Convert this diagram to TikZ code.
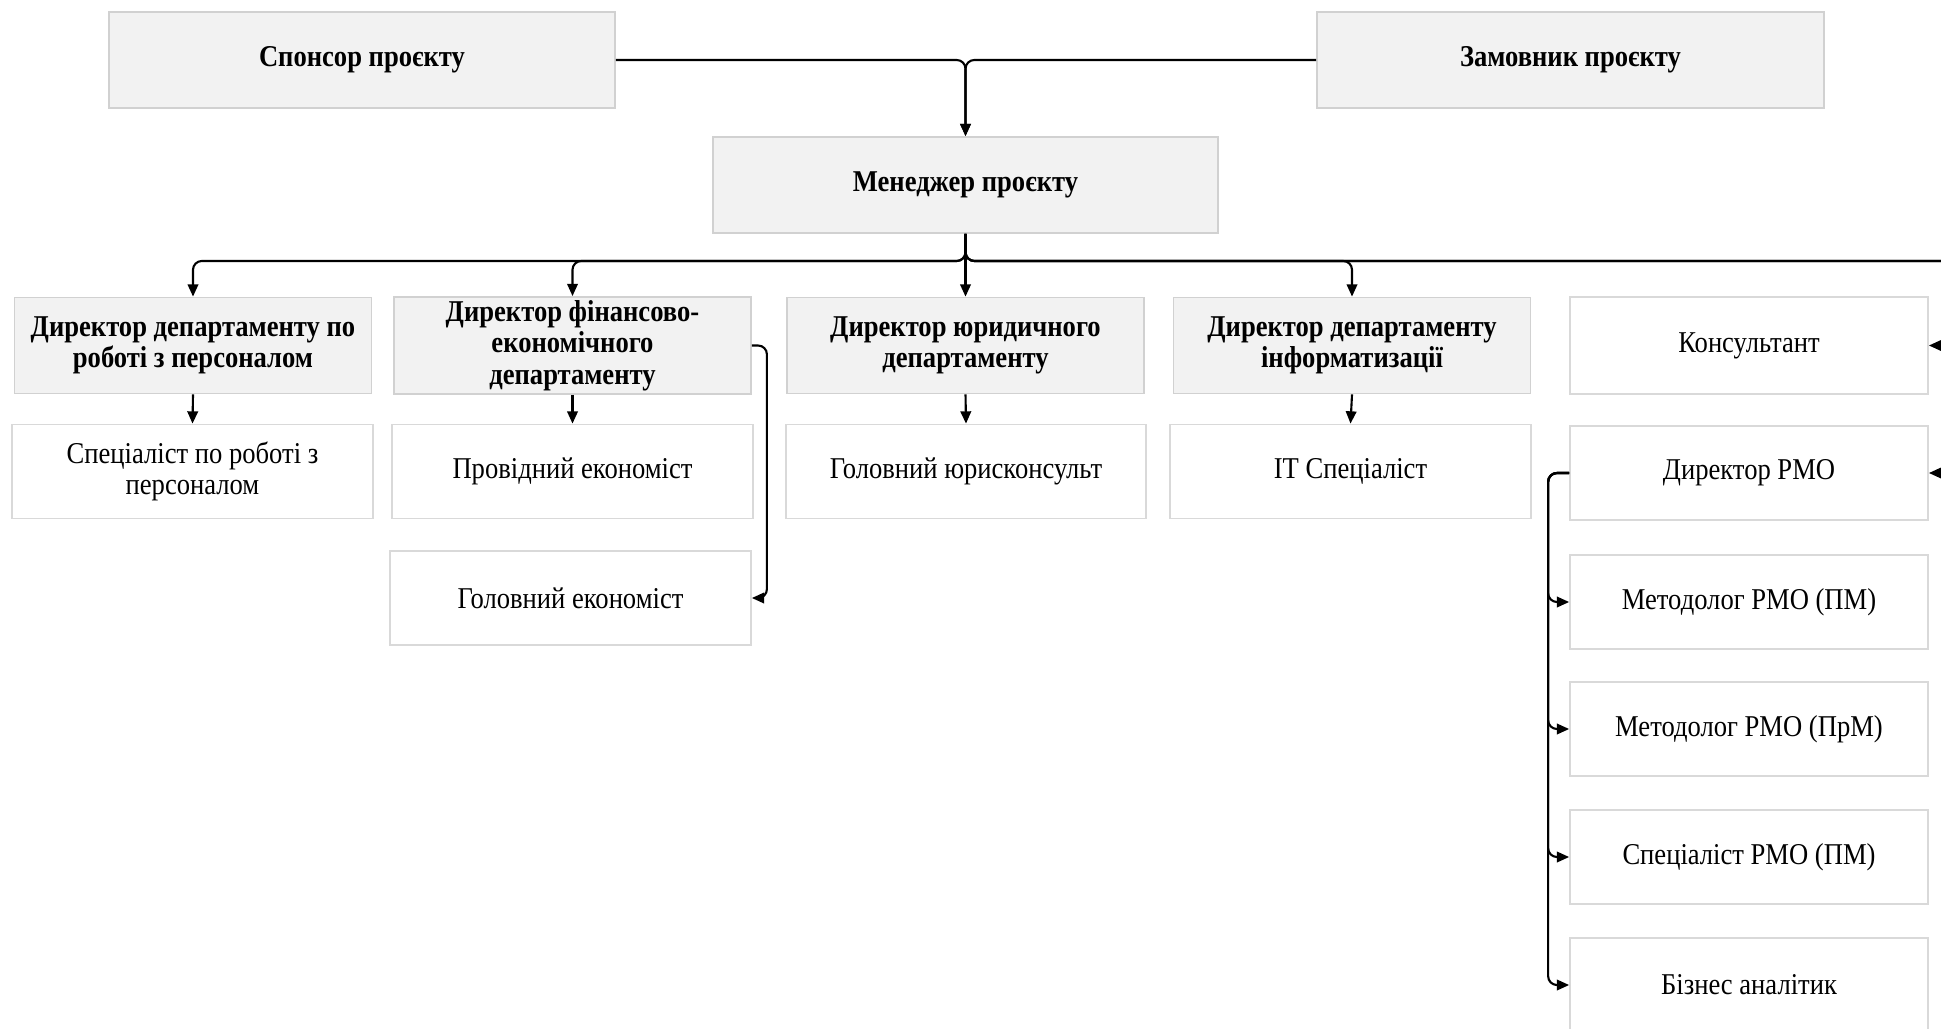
\documentclass[tikz,border=0pt]{standalone}
\usepackage{fontspec}
\setmainfont{Liberation Serif}[FakeStretch=0.88]
\usetikzlibrary{arrows.meta}

\begin{document}
\begin{tikzpicture}[>={Triangle[length=3.5pt,width=3pt]},
    line width=0.6pt,
    head/.style={draw=black!18,fill=black!5,line width=0.5pt,minimum width=3.57cm,minimum height=0.96cm,inner sep=1pt,align=center,font=\fontsize{8.6}{8.9}\selectfont\bfseries},
    post/.style={draw=black!15,fill=white,line width=0.5pt,minimum width=3.6cm,minimum height=0.94cm,inner sep=1pt,align=center,font=\fontsize{8.6}{8.9}\selectfont},
    link/.style={->,rounded corners=2.5pt}]
\useasboundingbox (0,0) rectangle (19.41,-10.28);
\clip (0,0) rectangle (19.41,-10.28);
% top level
\node[head,minimum width=5.06cm] (spons) at (3.62,-0.6) {Спонсор проєкту};
\node[head,minimum width=5.07cm] (zam) at (15.705,-0.6) {Замовник проєкту};
\node[head,minimum width=5.05cm] (mgr) at (9.655,-1.85) {Менеджер проєкту};
% directors
\node[head] (hr) at (1.93,-3.455) {Директор департаменту по\\роботі з персоналом};
\node[head] (fin) at (5.725,-3.455) {Директор фінансово-\\економічного\\департаменту};
\node[head] (law) at (9.655,-3.455) {Директор юридичного\\департаменту};
\node[head] (itdir) at (13.52,-3.455) {Директор департаменту\\інформатизації};
\node[post,minimum width=3.58cm,minimum height=0.97cm] (kons) at (17.49,-3.455) {Консультант};
% staff
\node[post,minimum width=3.61cm] (hrspec) at (1.925,-4.715) {Спеціаліст по роботі з\\персоналом};
\node[post,minimum width=3.61cm] (leadecon) at (5.725,-4.715) {Провідний економіст};
\node[post] (headlaw) at (9.66,-4.715) {Головний юрисконсульт};
\node[post,minimum width=3.61cm] (itspec) at (13.505,-4.715) {IT Спеціаліст};
\node[post,minimum width=3.61cm] (headecon) at (5.705,-5.98) {Головний економіст};
% PMO column
\node[post,minimum width=3.58cm] (pmo) at (17.49,-4.73) {Директор PMO};
\node[post,minimum width=3.58cm] (meth1) at (17.49,-6.02) {Методолог PMO (ПМ)};
\node[post,minimum width=3.58cm] (meth2) at (17.49,-7.29) {Методолог PMO (ПрМ)};
\node[post,minimum width=3.58cm] (pmospec) at (17.49,-8.57) {Спеціаліст PMO (ПМ)};
\node[post,minimum width=3.58cm] (ba) at (17.49,-9.85) {Бізнес аналітик};
% connectors
\coordinate (bus) at (0,-2.61);
\coordinate (edge) at (19.6,0);
\draw[link] (spons.east) -| (mgr.north);
\draw[link] (zam.west) -| (mgr.north);
\foreach \n in {hr,fin,itdir}
    \draw[link] (mgr.south) |- (bus -| \n.north) -- (\n.north);
\draw[->] (mgr.south) -- (law.north);
\draw[link] (mgr.south) |- (bus -| edge) |- (kons.east);
\draw[link] (mgr.south) |- (bus -| edge) |- (pmo.east);
\foreach \a/\b in {hr/hrspec,fin/leadecon,law/headlaw,itdir/itspec}
    \draw[->] (\a.south) -- (\b.north);
\draw[link] (fin.east) -- ++(0.15,0) |- (headecon.east);
\foreach \n in {meth1,meth2,pmospec,ba}
    \draw[link] (pmo.west) -- ++(-0.21,0) |- (\n.west);
\end{tikzpicture}
\end{document}
